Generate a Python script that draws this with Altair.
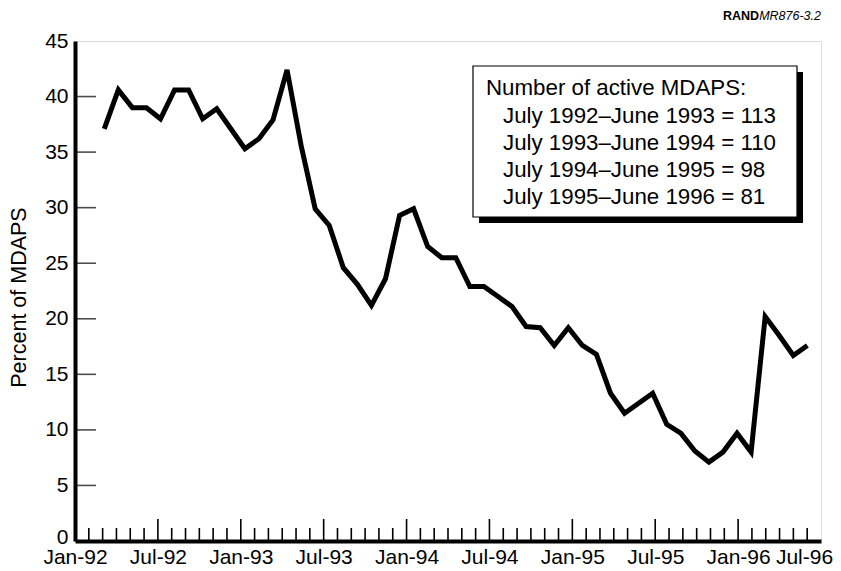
import altair as alt
import pandas as pd

# ---------------- data ----------------
# Percent of MDAPS, monthly, April 1992 .. June 1996 (51 points)
pct_mdaps = [37.1, 40.6, 39.0, 39.0, 38.0, 40.6, 40.6, 38.0, 38.9, 37.1,
             35.3, 36.2, 37.9, 42.4, 35.6, 29.9, 28.4, 24.6, 23.1, 21.2,
             23.6, 29.3, 29.9, 26.5, 25.5, 25.5, 22.9, 22.9, 22.0, 21.1,
             19.3, 19.2, 17.6, 19.2, 17.6, 16.8, 13.3, 11.5, 12.4, 13.3,
             10.5, 9.7, 8.1, 7.1, 8.0, 9.7, 8.0, 20.2, 18.5, 16.7, 17.6]

tick_labels = ["Jan-92", "Jul-92", "Jan-93", "Jul-93", "Jan-94",
               "Jul-94", "Jan-95", "Jul-95", "Jan-96", "Jul-96"]
y_ticks = [0, 5, 10, 15, 20, 25, 30, 35, 40, 45]
y_title = "Percent of MDAPS"

legend_title = "Number of active MDAPS:"
legend_lines = ["July 1992\u2013June 1993 = 113",
                "July 1993\u2013June 1994 = 110",
                "July 1994\u2013June 1995 = 98",
                "July 1995\u2013June 1996 = 81"]
note_bold = "RAND"
note_italic = "MR876-3.2"

# ---------------- layout ----------------
W, H = 746, 500
FONT = "Liberation Sans"
FS = 21
LFS = 22.3
n_months = 54  # Jan-92 .. Jul-96

df_line = pd.DataFrame({"idx": list(range(len(pct_mdaps))), "pct": pct_mdaps})
df_ticks = pd.DataFrame({"m": list(range(1, n_months))})
df_ticks["major"] = df_ticks["m"] % 6 == 0
df_yt = pd.DataFrame({"v": [v for v in y_ticks if 0 < v < 45]})
one = pd.DataFrame({"a": [0]})

y_scale = alt.Scale(domain=[0, 45], nice=False, zero=False)
month_scale = alt.Scale(domain=[0, n_months], nice=False, zero=False)
data_scale = alt.Scale(domain=[-2.08, 50.97], nice=False, zero=False)

label_expr = "[" + ",".join("'%s'" % l for l in tick_labels) + "][round(datum.value/6)]"

line = alt.Chart(df_line).mark_line(
    color="black", strokeWidth=5, strokeJoin="miter", strokeMiterLimit=4
).encode(
    x=alt.X("idx:Q", scale=data_scale, axis=None),
    y=alt.Y("pct:Q", scale=y_scale,
            axis=alt.Axis(values=y_ticks, ticks=False, grid=False,
                          domainColor="black", domainWidth=4,
                          labelFontSize=FS, labelPadding=7, labelColor="black",
                          labelOffset={"condition": {"test": "datum.value == 0", "value": -4},
                                       "value": 0},
                          title=y_title, titleFontSize=FS + 0.5, titleFontWeight="normal",
                          titleColor="black", titlePadding=14, titleY=256)),
)

minor = alt.Chart(df_ticks).transform_filter("!datum.major").mark_rule(
    color="black", strokeWidth=1.6
).encode(
    x=alt.X("m:Q", scale=month_scale,
            axis=alt.Axis(values=list(range(0, n_months + 1, 6)), labelExpr=label_expr,
                          ticks=False, grid=False, domainColor="black", domainWidth=4,
                          labelFontSize=FS, labelPadding=5, labelFlush=False,
                          labelOffset={"condition": {"test": "datum.value == 54", "value": -17},
                                       "value": 0},
                          labelColor="black", title=None)),
    y=alt.value(H), y2=alt.value(H - 13),
)

major = alt.Chart(df_ticks).transform_filter("datum.major").mark_rule(
    color="black", strokeWidth=1.6
).encode(
    x=alt.X("m:Q", scale=month_scale, axis=None),
    y=alt.value(H), y2=alt.value(H - 22),
)

yticks = alt.Chart(df_yt).mark_tick(
    color="black", orient="horizontal", size=21, thickness=1.6
).encode(
    y=alt.Y("v:Q", scale=y_scale),
    x=alt.value(10.5),
)

shadow = alt.Chart(one).mark_rect(color="black").encode(
    x=alt.value(404), x2=alt.value(728), y=alt.value(31), y2=alt.value(182))
box = alt.Chart(one).mark_rect(fill="white", stroke="black", strokeWidth=1.2).encode(
    x=alt.value(398), x2=alt.value(722), y=alt.value(25), y2=alt.value(176))
ltitle = alt.Chart(one).mark_text(
    align="left", baseline="middle", font=FONT, fontSize=LFS, color="black"
).encode(x=alt.value(411), y=alt.value(47), text=alt.value(legend_title))
llines = alt.Chart(one).mark_text(
    align="left", baseline="middle", font=FONT, fontSize=LFS, color="black",
    lineBreak="\n", lineHeight=26.9
).encode(x=alt.value(428), y=alt.value(75), text=alt.value("\n".join(legend_lines)))

note_i = alt.Chart(one).mark_text(
    align="right", baseline="middle", font=FONT, fontSize=12.5, fontStyle="italic", color="black"
).encode(x=alt.value(746), y=alt.value(-25), text=alt.value(note_italic))
note_b = alt.Chart(one).mark_text(
    align="right", baseline="middle", font=FONT, fontSize=12.5, fontWeight="bold", color="black"
).encode(x=alt.value(746 - 62), y=alt.value(-25), text=alt.value(note_bold))

chart = alt.layer(
    minor, major, yticks, line, shadow, box, ltitle, llines, note_i, note_b
).resolve_scale(x="independent").properties(
    width=W, height=H,
    autosize=alt.AutoSizeParams(type="none"),
    padding={"left": 67, "top": 33, "right": 12, "bottom": 27},
    background="white",
).configure_view(stroke="black", strokeWidth=2).configure(font=FONT)

chart.save("out.html", embed_options={"renderer": "svg", "actions": False})
